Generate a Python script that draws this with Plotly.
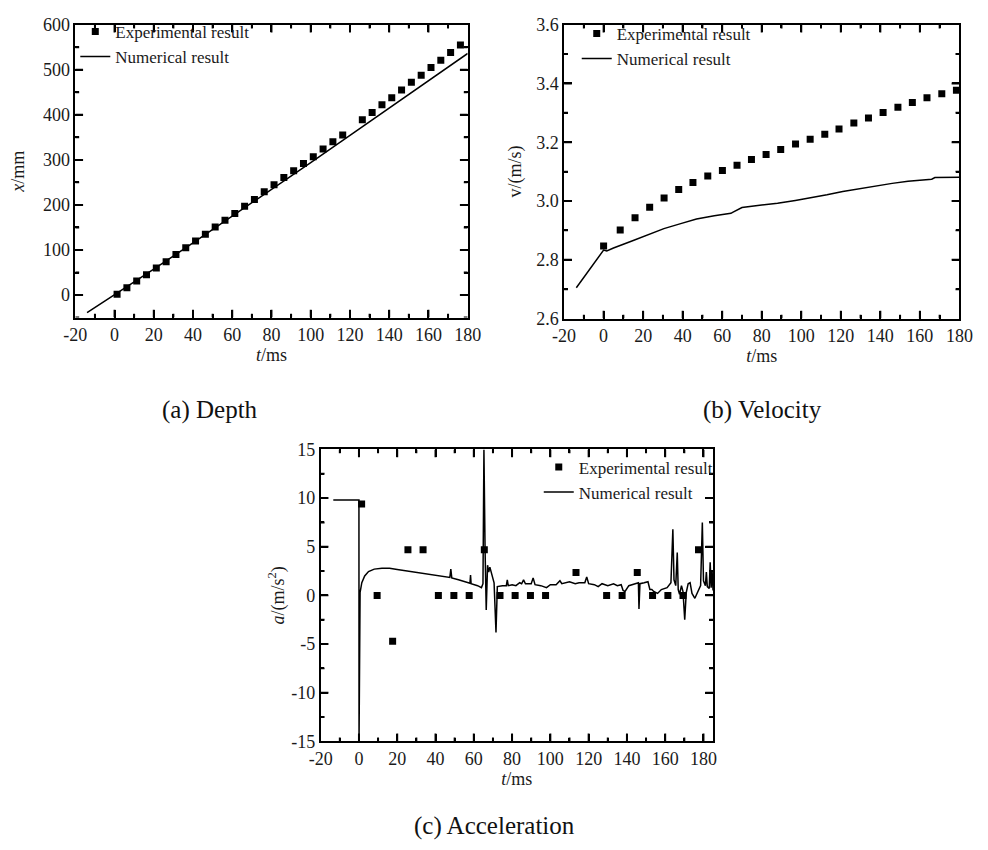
import plotly.graph_objects as go

# ---------------- Data ----------------
# (a) Depth
ta_exp = [1.3, 6.3, 11.3, 16.3, 21.3, 26.3, 31.3, 36.3, 41.3, 46.3, 51.3, 56.3, 61.3, 66.3,
          71.3, 76.3, 81.3, 86.3, 91.3, 96.3, 101.3, 106.3, 111.3, 116.3, 126.3, 131.3,
          136.3, 141.3, 146.3, 151.3, 156.3, 161.3, 166.3, 171.3, 176.3]
xa_exp = [2, 16, 31, 45, 60, 74, 90, 105, 120, 135, 151, 166, 181, 197, 212, 229, 245, 261,
          276, 292, 307, 324, 340, 355, 389, 405, 422, 438, 455, 472, 488, 505, 521, 538, 555]
ta_num = [-14, 0, 20, 40, 60, 80, 100, 120, 140, 160, 180]
xa_num = [-39, 0, 57.5, 115.6, 174.5, 234, 294, 354.5, 415.5, 477, 536]

# (b) Velocity
tb_exp = [0, 8.4, 15.9, 23.3, 30.6, 38.0, 45.2, 52.7, 60.1, 67.5, 74.8, 82.2, 89.6, 97.1,
          104.5, 111.9, 119.1, 126.6, 134.0, 141.4, 148.9, 156.2, 163.6, 171.1, 178.5]
vb_exp = [2.847, 2.901, 2.943, 2.979, 3.010, 3.039, 3.063, 3.085, 3.104, 3.122, 3.141, 3.158,
          3.175, 3.194, 3.210, 3.227, 3.245, 3.265, 3.282, 3.301, 3.319, 3.335, 3.351, 3.365,
          3.377]
tb_num = [-13.8, 0, 1.6, 5, 14, 22, 30.5, 39, 47, 56, 64.4, 65.5, 68, 70, 80, 88, 97, 105,
          113, 121, 130, 138, 146, 154, 164, 166, 167.6, 180]
vb_num = [2.705, 2.833, 2.830, 2.840, 2.863, 2.884, 2.906, 2.923, 2.939, 2.950, 2.958, 2.962,
          2.972, 2.978, 2.986, 2.992, 3.002, 3.011, 3.021, 3.032, 3.042, 3.052, 3.060, 3.067,
          3.072, 3.074, 3.080, 3.081]

# (c) Acceleration
tc_exp = [1.4, 9.5, 17.6, 25.6, 33.5, 41.5, 49.6, 57.6, 65.5, 73.7, 81.6, 89.6, 97.5, 113.4,
          129.4, 137.5, 145.4, 153.4, 161.4, 169.3, 177.4]
ac_exp = [9.4, 0, -4.7, 4.7, 4.7, 0, 0, 0, 4.7, 0, 0, 0, 0, 2.35, 0, 0, 2.35, 0, 0, 0, 4.7]
tc_num = [-13.4, 0, 0.05, 0.3, 0.6, 1.5, 3, 5, 8, 12, 16, 20, 25, 30, 35, 40, 45, 47.5, 48,
          48.5, 52, 56, 58, 58.3, 58.6, 62, 64, 64.8, 65.3, 65.9, 66.5, 67.2, 67.8, 68.4,
          69.7, 70.6, 71.6, 72.3, 75, 77, 77.5, 78, 80, 82, 84, 85, 86, 87, 90, 91, 92, 95,
          98, 100, 103, 105, 106, 108, 110, 113, 115, 118, 119, 120, 123, 125, 127, 130, 133,
          135, 137, 138, 139, 141, 144, 146, 146.3, 146.8, 149, 151, 152, 153, 154, 156,
          158, 161, 163, 164, 164.6, 165.5, 166.3, 166.8, 167.5, 168.5, 169.3, 170.2, 171,
          172, 173, 174, 175.5, 177, 178.5, 179.4, 180, 181, 181.5, 182, 183, 183.5, 184,
          184.5, 185]
ac_num = [9.8, 9.8, -15, -4.4, 0.3, 1.3, 2.0, 2.45, 2.7, 2.8, 2.78, 2.65, 2.5, 2.35, 2.2,
          2.05, 1.9, 1.85, 2.7, 1.8, 1.6, 1.35, 1.25, 2.1, 1.2, 1.0, 0.8, 1.2, 15, 4.7, -1.5,
          3.1, 2.4, 2.9, 2.0, 1.3, -3.8, 0.9, 1.0, 1.0, 1.6, 1.0, 1.1, 1.0, 1.3, 1.2, 1.6,
          1.2, 1.2, 1.8, 1.1, 1.0, 0.8, 1.1, 1.1, 1.5, 1.2, 1.3, 1.4, 1.2, 1.3, 1.3, 1.9,
          1.2, 1.1, 0.9, 1.2, 1.0, 1.2, 1.0, 1.1, 0.5, 0.4, 1.0, 1.2, 1.3, -1.4, 1.2, 1.3,
          1.4, 0.6, 0.6, 0.4, 0.2, 0.6, 0.8, 1.3, 6.8, 1.6, 1.0, 4.4, 0.6, 0.1, 1.0, 0.4,
          -2.5, 0.3, 1.2, 1.3, 0.2, -0.3, 0.3, 1.0, 7.5, 1.5, 1.0, 2.4, 0.9, 0.7, 3.4, 0.8,
          2.5, 0.5]

# tick labels (hyphen minus as in the reference)
t_ticks = [-20, 0, 20, 40, 60, 80, 100, 120, 140, 160, 180]
t_labels = ["-20", "0", "20", "40", "60", "80", "100", "120", "140", "160", "180"]
xa_ticks = [0, 100, 200, 300, 400, 500, 600]
xa_labels = ["0", "100", "200", "300", "400", "500", "600"]
vb_ticks = [2.6, 2.8, 3.0, 3.2, 3.4, 3.6]
vb_labels = ["2.6", "2.8", "3.0", "3.2", "3.4", "3.6"]
ac_ticks = [-15, -10, -5, 0, 5, 10, 15]
ac_labels = ["-15", "-10", "-5", "0", "5", "10", "15"]

exp_name = "Experimental result"
num_name = "Numerical result"
captions = ["(a) Depth", "(b) Velocity", "(c) Acceleration"]

# ---------------- Figure ----------------
FONT = "Liberation Serif, Times New Roman, serif"
W, H = 988, 850
INK = "#1a1a1a"
MAJOR_LEN, MINOR_LEN, TICK_W = 8, 4, 2

fig = go.Figure()


def px_x(p):
    return p / W


def px_y(p):
    return 1 - p / H


# panel boxes in pixels: (left, right, top, bottom)
boxes = {"": (65, 468, 15, 315), "2": (567, 973, 15, 316), "3": (317, 720, 450, 749)}
ranges = {"": ((-20, 180), (-50, 600)), "2": ((-20, 180), (2.6, 3.6)),
          "3": ((-20, 185), (-15, 15))}
yticks = {"": xa_ticks, "2": vb_ticks, "3": ac_ticks}
minor_dt = {"": (10, 50), "2": (10, 0.1), "3": (10, 2.5)}

panels = [
    dict(ax="", t_exp=ta_exp, y_exp=xa_exp, t_num=ta_num, y_num=xa_num, legend="legend"),
    dict(ax="2", t_exp=tb_exp, y_exp=vb_exp, t_num=tb_num, y_num=vb_num, legend="legend2"),
    dict(ax="3", t_exp=tc_exp, y_exp=ac_exp, t_num=tc_num, y_num=ac_num, legend="legend3"),
]


def midpoints(vals, lo, hi):
    step = vals[1] - vals[0]
    pts = [vals[0] - step / 2] + [(a + b) / 2 for a, b in zip(vals[:-1], vals[1:])] + \
          [vals[-1] + step / 2]
    return [v for v in pts if lo - 1e-9 <= v <= hi + 1e-9]


# ---- inside ticks on all four sides as small filled rectangles (axis-anchored) ----
shapes = []


def tick_rects(ax):
    l, r, t, b = boxes[ax]
    (x0, x1), (y0, y1) = ranges[ax]
    ux = (x1 - x0) / (r - l)   # data units per pixel
    uy = (y1 - y0) / (b - t)
    hw_x = TICK_W / 2 * ux
    hw_y = TICK_W / 2 * uy
    xref, yref = "x" + ax, "y" + ax
    base = dict(type="rect", xref=xref, yref=yref, fillcolor="black",
                line=dict(width=0), layer="above")
    xmaj = [v for v in t_ticks if x0 < v < x1]
    ymaj = [v for v in yticks[ax] if y0 < v < y1]
    for vals, ln in ((xmaj, MAJOR_LEN), (midpoints(t_ticks, x0, x1), MINOR_LEN)):
        for v in vals:
            shapes.append(dict(base, x0=v - hw_x, x1=v + hw_x, y0=y0, y1=y0 + ln * uy))
            shapes.append(dict(base, x0=v - hw_x, x1=v + hw_x, y0=y1 - ln * uy, y1=y1))
    for vals, ln in ((ymaj, MAJOR_LEN), (midpoints(yticks[ax], y0, y1), MINOR_LEN)):
        for v in vals:
            shapes.append(dict(base, y0=v - hw_y, y1=v + hw_y, x0=x0, x1=x0 + ln * ux))
            shapes.append(dict(base, y0=v - hw_y, y1=v + hw_y, x0=x1 - ln * ux, x1=x1))


for p in panels:
    fig.add_trace(go.Scatter(
        x=p["t_exp"], y=p["y_exp"], mode="markers", name=exp_name,
        marker=dict(symbol="square", size=7, color="black"),
        xaxis="x" + p["ax"], yaxis="y" + p["ax"], legend=p["legend"]))
    fig.add_trace(go.Scatter(
        x=p["t_num"], y=p["y_num"], mode="lines", name=num_name,
        line=dict(color="black", width=1.5),
        xaxis="x" + p["ax"], yaxis="y" + p["ax"], legend=p["legend"]))
    tick_rects(p["ax"])

fig.update_layout(shapes=shapes)


def axis(ax, which, tickvals, ticktext, title, anchor, standoff):
    l, r, t, b = boxes[ax]
    if which == "x":
        domain = [px_x(l), px_x(r)]
        rng = list(ranges[ax][0])
        mdt = minor_dt[ax][0]
    else:
        domain = [px_y(b), px_y(t)]
        rng = list(ranges[ax][1])
        mdt = minor_dt[ax][1]
    return dict(
        domain=domain, range=rng, anchor=anchor,
        tickmode="array", tickvals=tickvals, ticktext=ticktext,
        showline=True, linecolor="black", linewidth=1.6, mirror="allticks",
        ticks="inside", ticklen=MAJOR_LEN, tickwidth=TICK_W, tickcolor="black",
        minor=dict(ticks="inside", ticklen=MINOR_LEN, tickwidth=TICK_W, tickcolor="black",
                   tickmode="linear", tick0=0, dtick=mdt, showgrid=False),
        showgrid=False, zeroline=False,
        tickfont=dict(family=FONT, size=18, color=INK),
        title=dict(text=title, standoff=standoff, font=dict(family=FONT, size=18, color=INK)),
    )


fig.update_layout(
    xaxis=axis("", "x", t_ticks, t_labels, "<i>t</i>/ms", "y", 2),
    yaxis=axis("", "y", xa_ticks, xa_labels, "<i>x</i>/mm", "x", 14),
    xaxis2=axis("2", "x", t_ticks, t_labels, "<i>t</i>/ms", "y2", 2),
    yaxis2=axis("2", "y", vb_ticks, vb_labels, "v/(m/s)", "x2", 10),
    xaxis3=axis("3", "x", t_ticks, t_labels, "<i>t</i>/ms", "y3", 2),
    yaxis3=axis("3", "y", ac_ticks, ac_labels, "<i>a</i>/(m/s<sup>2</sup>)", "x3", 2),
)

leg_common = dict(font=dict(family=FONT, size=17, color=INK), bgcolor="rgba(0,0,0,0)",
                  borderwidth=0, tracegroupgap=0, itemwidth=30,
                  xanchor="left", yanchor="top", traceorder="normal")
fig.update_layout(
    legend=dict(x=px_x(65), y=px_y(4), **leg_common),
    legend2=dict(x=px_x(580), y=px_y(6), **leg_common),
    legend3=dict(x=px_x(541), y=px_y(450), **leg_common),
)

cap_pos = [(203, 410), (771, 410), (496, 836)]
for txt, (cx, cy) in zip(captions, cap_pos):
    fig.add_annotation(text=txt, x=px_x(cx), y=px_y(cy), xref="paper", yref="paper",
                       showarrow=False, xanchor="center", yanchor="middle",
                       font=dict(family=FONT, size=25, color="#111"))

fig.update_layout(width=W, height=H, margin=dict(l=0, r=0, t=0, b=0),
                  paper_bgcolor="white", plot_bgcolor="white", showlegend=True)

fig.write_html("out.html")
